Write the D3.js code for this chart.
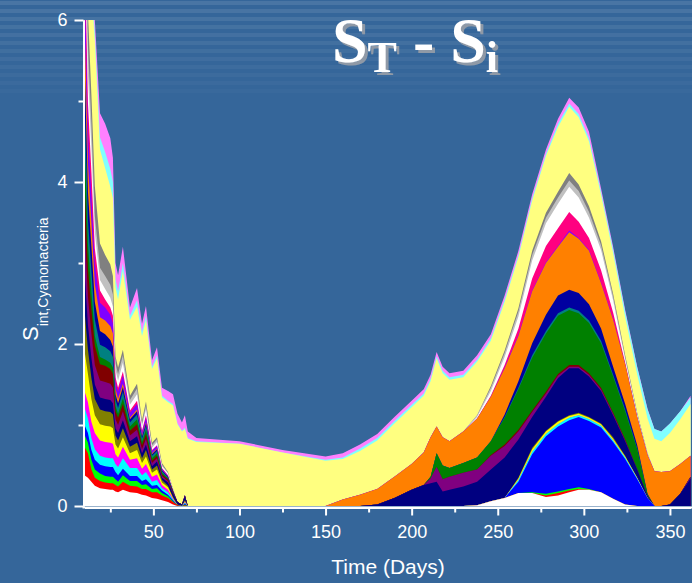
<!DOCTYPE html>
<html>
<head>
<meta charset="utf-8">
<script src="https://cdn.jsdelivr.net/npm/d3@7"></script>
<style>
  body { margin: 0; background: #35669a; }
  svg { display: block; }
</style>
</head>
<body>
<script>
var width = 692,
    height = 583;

// time grid (days)
var days = [10, 12, 14, 16, 19, 22, 25, 26.5, 28, 29.5, 32.3, 36.4, 40.5, 43.4, 45.7, 49.2, 52.1, 55, 58.5, 61.4, 64, 66.6, 68.3, 70,
            75, 100, 125, 150, 160, 170, 180, 190, 200, 207, 211, 214.5, 218, 222, 230, 238, 246, 254, 262, 270,
            278, 285, 291.5, 297, 303, 310, 317, 324, 331, 337, 341, 345, 350, 356, 362];

// one array per stacked layer, bottom to top (early days, then the rest of the year)
var white1 = [.38, .35, .3, .25, .22, .21, .2, .2, .18, .17, .2, .17, .16, .14, .13, .1, .09, .07, .05, .02, 0, 0, 0, 0,
              0, 0, 0, 0, 0, 0, 0, 0, 0, 0, 0, 0, 0, 0, 0, .01, .06, .1, .16, .16, .11, .13, .17, .2, .2, .17, .09, .02, 0, 0, 0, 0, 0, 0, 0];
var red = [.35, .3, .15, .1, .09, .08, .08, .08, .08, .07, .1, .08, .08, .07, .08, .07, .08, .06, .05, .03, .01, 0, .01, 0,
           0, 0, 0, 0, 0, 0, 0, 0, 0, 0, 0, 0, 0, 0, 0, 0, 0, 0, 0, 0, .02, .03, .02, .01, 0, 0, 0, 0, 0, 0, 0, 0, 0, 0, 0];
var green = [.15, .13, .12, .1, .09, .08, .08, .08, .07, .06, .08, .06, .07, .05, .06, .04, .05, .03, .02, .01, 0, 0, .01, 0,
             0, 0, 0, 0, 0, 0, 0, 0, 0, 0, 0, 0, 0, 0, 0, 0, 0, 0, 0, .01, .02, .02, .02, .02, .01, 0, 0, 0, 0, 0, 0, 0, 0, 0, 0];
var blue = [.12, .12, .12, .12, .11, .12, .12, .12, .09, .08, .08, .06, .06, .05, .06, .04, .04, .03, .02, .01, 0, 0, .01, 0,
            0, 0, 0, 0, 0, 0, 0, 0, 0, 0, 0, 0, 0, 0, 0, 0, 0, 0, .14, .47, .71, .8, .85, .87, .84, .8, .7, .56, .33, .1, 0, 0, 0, 0, 0];
var cyan = [.22, .18, .15, .13, .11, .11, .11, .11, .1, .1, .13, .1, .1, .07, .09, .05, .06, .03, .03, .01, 0, 0, .01, 0,
            0, 0, 0, 0, 0, 0, 0, 0, 0, 0, 0, 0, 0, 0, 0, 0, 0, 0, .02, .03, .03, .03, .03, .02, .02, .02, .02, .02, .01, 0, 0, 0, 0, 0, 0];
var magenta = [.2, .2, .2, .2, .19, .19, .19, .18, .12, .12, .14, .1, .12, .08, .1, .06, .07, .04, .03, .01, 0, 0, .01, 0,
               0, 0, 0, 0, 0, 0, 0, 0, 0, 0, 0, 0, 0, 0, 0, 0, 0, 0, 0, 0, 0, 0, 0, 0, 0, 0, 0, 0, 0, 0, 0, 0, 0, 0, 0];
var yellow = [.5, .35, .28, .22, .2, .2, .2, .19, .12, .11, .12, .08, .1, .07, .09, .05, .06, .03, .03, .01, 0, 0, .01, 0,
              0, 0, 0, 0, 0, 0, 0, 0, 0, 0, 0, 0, 0, 0, 0, 0, 0, 0, .02, .03, .03, .03, .02, .02, .02, .02, .02, .01, .01, 0, 0, 0, 0, 0, 0];
var darkYellow = [.5, .3, .26, .2, .18, .18, .18, .17, .11, .1, .11, .08, .09, .06, .08, .04, .05, .03, .02, .01, .01, 0, .01, 0,
                  0, 0, 0, 0, 0, 0, 0, 0, 0, 0, 0, 0, 0, 0, 0, 0, 0, 0, .01, .02, .01, .01, .01, .01, .01, .01, .02, .01, 0, 0, 0, 0, 0, 0, 0];
var navy = [.5, .3, .25, .18, .15, .15, .15, .14, .09, .09, .1, .07, .08, .06, .07, .04, .05, .03, .04, .04, .03, .02, .05, 0,
            0, 0, 0, 0, 0, 0, .02, .1, .2, .26, .28, .3, .18, .2, .24, .29, .39, .5, .47, .38, .42, .53, .58, .55, .5, .4, .27, .18, .1, .02, 0, 0, .02, .15, .34];
var purple = [.55, .35, .3, .24, .21, .21, .2, .19, .11, .1, .11, .07, .08, .05, .07, .04, .04, .02, .02, .01, 0, 0, .01, 0,
              0, 0, 0, 0, 0, 0, 0, 0, 0, 0, .06, .18, .15, .16, .17, .15, .17, .14, .1, .06, .04, .03, .02, .02, .02, .02, .02, .01, 0, 0, 0, 0, 0, 0, .02];
var wine = [.55, .35, .3, .24, .2, .2, .18, .17, .1, .09, .09, .06, .07, .05, .06, .03, .03, .02, .02, .01, 0, 0, 0, 0,
            0, 0, 0, 0, 0, 0, 0, 0, 0, 0, 0, 0, 0, 0, 0, 0, .01, .02, .02, .02, .02, .02, .02, .02, .02, .02, .01, .01, 0, 0, 0, 0, 0, 0, 0];
var olive = [.5, .3, .22, .12, .09, .08, .08, .08, .06, .05, .07, .05, .06, .04, .05, .03, .03, .02, .01, 0, 0, 0, 0, 0,
             0, 0, 0, 0, 0, 0, 0, 0, 0, 0, .02, .17, .17, .11, .12, .15, .17, .33, .5, .65, .72, .72, .68, .64, .62, .55, .45, .35, .25, .02, 0, 0, 0, 0, 0];
var darkCyan = [.5, .3, .26, .2, .15, .15, .14, .13, .08, .07, .08, .05, .06, .04, .05, .03, .03, .02, .01, .01, 0, 0, 0, 0,
                0, 0, 0, 0, 0, 0, 0, 0, 0, 0, 0, 0, 0, 0, 0, 0, 0, .01, .02, .03, .03, .03, .03, .03, .03, .03, .02, .02, .01, 0, 0, 0, 0, 0, 0];
var royal = [.5, .35, .3, .22, .17, .16, .14, .13, .07, .06, .06, .04, .04, .03, .03, .02, .02, .01, .01, .01, 0, 0, 0, 0,
             0, 0, 0, 0, 0, 0, 0, 0, 0, 0, 0, 0, 0, 0, 0, 0, 0, .03, .08, .15, .2, .22, .22, .22, .2, .15, .1, .07, .04, .01, 0, 0, 0, 0, 0];
var orange = [.5, .35, .3, .22, .17, .17, .17, .16, .07, .05, .04, .02, .02, .01, .01, .01, .01, 0, 0, 0, 0, 0, 0, 0,
              0, 0, 0, 0, .08, .14, .19, .26, .32, .4, .49, .33, .35, .33, .39, .48, .55, .57, .56, .64, .64, .6, .71, .67, .66, .56, .58, .49, .35, .48, .43, .42, .41, .37, .26];
var violet = [.55, .4, .32, .24, .18, .16, .14, .13, .09, .09, .1, .06, .07, .04, .06, .03, .03, .02, .01, 0, 0, 0, 0, 0,
              0, 0, 0, 0, 0, 0, 0, 0, 0, 0, 0, 0, 0, 0, 0, 0, 0, .01, .01, .01, .01, .01, .02, .01, .01, .01, .01, 0, 0, 0, 0, 0, 0, 0, 0];
var pink = [.5, .35, .3, .2, .15, .1, .09, .09, .05, .05, .05, .03, .04, .02, .03, .01, .01, .01, .01, 0, 0, 0, 0, 0,
            0, 0, 0, 0, 0, 0, 0, 0, 0, 0, 0, 0, 0, 0, 0, 0, .01, .03, .08, .15, .2, .22, .23, .2, .15, .15, .08, .02, 0, 0, 0, 0, 0, 0, 0];
var white2 = [.45, .35, .3, .2, .13, .13, .12, .11, .09, .09, .11, .07, .08, .05, .07, .03, .04, .02, .02, .01, 0, 0, .01, 0,
              0, 0, 0, 0, 0, 0, 0, 0, 0, 0, 0, 0, 0, 0, 0, .02, .06, .1, .15, .22, .28, .3, .31, .3, .25, .25, .15, .04, .02, .01, 0, 0, 0, 0, 0];
var ltGray = [.45, .35, .3, .2, .15, .16, .16, .15, .08, .08, .09, .06, .07, .04, .05, .03, .03, .02, .01, .01, 0, 0, 0, 0,
              0, 0, 0, 0, 0, 0, 0, 0, 0, 0, 0, 0, 0, 0, 0, .02, .04, .05, .06, .07, .07, .08, .08, .08, .07, .06, .05, .03, .02, .01, 0, 0, 0, 0, 0];
var gray = [.58, .42, .35, .37, .3, .26, .25, .23, .09, .08, .07, .05, .06, .04, .05, .03, .03, .02, .01, 0, 0, 0, 0, 0,
            0, 0, 0, 0, 0, 0, 0, 0, 0, 0, 0, 0, 0, 0, 0, 0, .02, .03, .04, .05, .06, .07, .09, .08, .07, .05, .03, .02, .01, 0, 0, 0, 0, 0, 0];
var ltYellow = [1.35, 1.1, 1.27, 1.8, 1.16, 1.07, .96, .96, .85, .84, .97, .94, .95, 1.04, 1.0, .91, .97, .81, .86, 1.03, .96, .9, .81, .83,
                .79, .77, .66, .56, .5, .54, .6, .66, .7, .7, .69, .84, .79, .76, .67, .66, .56, .6, .63, .62, .7, .8, .82, .83, .8, .57, .5, .47, .47, .43, .4, .38, .47, .55, .64];
var ltCyan = [.3, .2, .15, .1, .15, .2, .22, .2, .1, .1, .1, .05, .08, .05, .06, .03, .04, .02, .02, .02, .01, .01, .02, .01,
              .01, 0, 0, .01, .02, .03, .03, .03, .03, .03, .03, .03, .03, .03, .03, .03, .03, .03, .03, .03, .03, .04, .04, .04, .04, .04, .05, .07, .09, .11, .12, .12, .12, .1, .08];
var ltMagenta = [.3, .2, .2, .15, .3, .35, .38, .3, .2, .2, .2, .1, .15, .1, .12, .08, .1, .1, .12, .12, .12, .1, .15, .08,
                 .04, .03, .03, .04, .05, .05, .05, .05, .05, .05, .05, .05, .05, .05, .05, .05, .05, .05, .05, .05, .05, .06, .07, .08, .08, .04, .03, .02, .01, .01, 0, 0, 0, 0, .02];

var layerNames = ["white1", "red", "green", "blue", "cyan", "magenta", "yellow", "darkYellow", "navy", "purple",
                  "wine", "olive", "darkCyan", "royal", "orange", "violet", "pink", "white2", "ltGray", "gray",
                  "ltYellow", "ltCyan", "ltMagenta"];
var layerValues = [white1, red, green, blue, cyan, magenta, yellow, darkYellow, navy, purple,
                   wine, olive, darkCyan, royal, orange, violet, pink, white2, ltGray, gray,
                   ltYellow, ltCyan, ltMagenta];
var layerColors = ["#ffffff", "#ff0000", "#00ff00", "#0000ff", "#00ffff", "#ff00ff", "#ffff00", "#808000", "#000080", "#800080",
                   "#800000", "#008000", "#008080", "#0000a0", "#ff8000", "#8000ff", "#ff0080", "#ffffff", "#c0c0c0", "#808080",
                   "#ffff80", "#80ffff", "#ff80ff"];

var xTicks = [50, 100, 150, 200, 250, 300, 350];
var xMinor = [25, 75, 125, 175, 225, 275, 325];
var yTicks = [0, 2, 4, 6];
var yMinor = [1, 3, 5];

var rows = days.map(function(d, i) {
  var r = { day: d };
  layerNames.forEach(function(k, j) { r[k] = layerValues[j][i]; });
  return r;
});

var svg = d3.select("body").append("svg")
    .attr("width", width)
    .attr("height", height);

var defs = svg.append("defs");
defs.append("filter")
    .attr("id", "shadow")
    .attr("x", "-10%").attr("y", "-10%")
    .attr("width", "130%").attr("height", "130%")
  .append("feDropShadow")
    .attr("dx", 3)
    .attr("dy", 3)
    .attr("stdDeviation", 0.6)
    .attr("flood-color", "#8f99a6")
    .attr("flood-opacity", 1);

svg.append("rect")
    .attr("width", width)
    .attr("height", height)
    .attr("fill", "#35669a");

// light stripes at the top of the slide
var stripes = svg.append("g");
for (var s = 0; s < 12; s++) {
  stripes.append("rect")
      .attr("x", 0)
      .attr("y", s * 8 + 1)
      .attr("width", width)
      .attr("height", 4)
      .attr("fill", "#ffffff")
      .attr("opacity", 0.1 - s * 0.007);
}

var x = d3.scaleLinear().domain([10, 362]).range([84.5, 690.6]);
var y = d3.scaleLinear().domain([0, 6]).range([506, 20]);

defs.append("clipPath")
    .attr("id", "clip")
  .append("rect")
    .attr("x", x(10))
    .attr("y", y(6))
    .attr("width", width - x(10))
    .attr("height", y(0) - y(6));

var series = d3.stack().keys(layerNames)(rows);

// draw each layer from 0 to its top, top layer first, so no seams show
var area = d3.area()
    .x(function(d) { return x(d.data.day); })
    .y0(y(0))
    .y1(function(d) { return y(d[1]); });

svg.append("g")
    .attr("clip-path", "url(#clip)")
  .selectAll("path")
    .data(series.slice().reverse())
  .join("path")
    .attr("fill", function(d) { return layerColors[d.index]; })
    .attr("d", area);

// axes
var axisFont = "'Liberation Sans', Arial, sans-serif";

var xAxis = svg.append("g")
    .attr("transform", "translate(0," + (y(0) + 1.5) + ")")
    .call(d3.axisBottom(x).tickValues(xTicks).tickSize(8).tickPadding(10).tickSizeOuter(0));
var xMinorAxis = svg.append("g")
    .attr("transform", "translate(0," + (y(0) + 1.5) + ")")
    .call(d3.axisBottom(x).tickValues(xMinor).tickSize(5).tickFormat("").tickSizeOuter(0));

var yAxis = svg.append("g")
    .attr("transform", "translate(" + (x(10) - 1) + ",0)")
    .call(d3.axisLeft(y).tickValues(yTicks).tickFormat(d3.format("d")).tickSize(9).tickPadding(7).tickSizeOuter(0));
var yMinorAxis = svg.append("g")
    .attr("transform", "translate(" + (x(10) - 1) + ",0)")
    .call(d3.axisLeft(y).tickValues(yMinor).tickSize(5).tickFormat("").tickSizeOuter(0));

[xAxis, xMinorAxis, yAxis, yMinorAxis].forEach(function(g) {
  g.select(".domain").attr("stroke", "#ffffff").attr("stroke-width", 2);
  g.selectAll(".tick line").attr("stroke", "#ffffff").attr("stroke-width", 2);
  g.selectAll(".tick text")
      .attr("fill", "#ffffff")
      .attr("font-family", axisFont)
      .attr("font-size", 18);
});
xAxis.select(".domain").attr("d", "M" + (x(10) - 2) + ",0H" + width);

svg.append("text")
    .attr("x", 388)
    .attr("y", 574)
    .attr("text-anchor", "middle")
    .attr("fill", "#ffffff")
    .attr("font-family", axisFont)
    .attr("font-size", 21)
    .text("Time (Days)");

var yLabel = svg.append("text")
    .attr("transform", "translate(38,341) rotate(-90)")
    .attr("fill", "#ffffff")
    .attr("font-family", axisFont)
    .attr("font-size", 22);
yLabel.append("tspan").text("S");
yLabel.append("tspan").attr("font-size", 14).attr("dy", 10).text("int,Cyanonacteria");

// title, white with a grey drop shadow
var title = svg.append("text")
    .attr("x", 332)
    .attr("y", 62)
    .attr("fill", "#ffffff")
    .attr("filter", "url(#shadow)")
    .attr("font-family", "'Liberation Serif', 'Times New Roman', serif")
    .attr("font-weight", "bold")
    .attr("font-size", 64);
title.append("tspan").text("S");
title.append("tspan").attr("font-size", 44).attr("dy", 10).text("T");
title.append("tspan").attr("dy", -10).text(" - S");
title.append("tspan").attr("font-size", 44).attr("dy", 10).text("i");
</script>
</body>
</html>
